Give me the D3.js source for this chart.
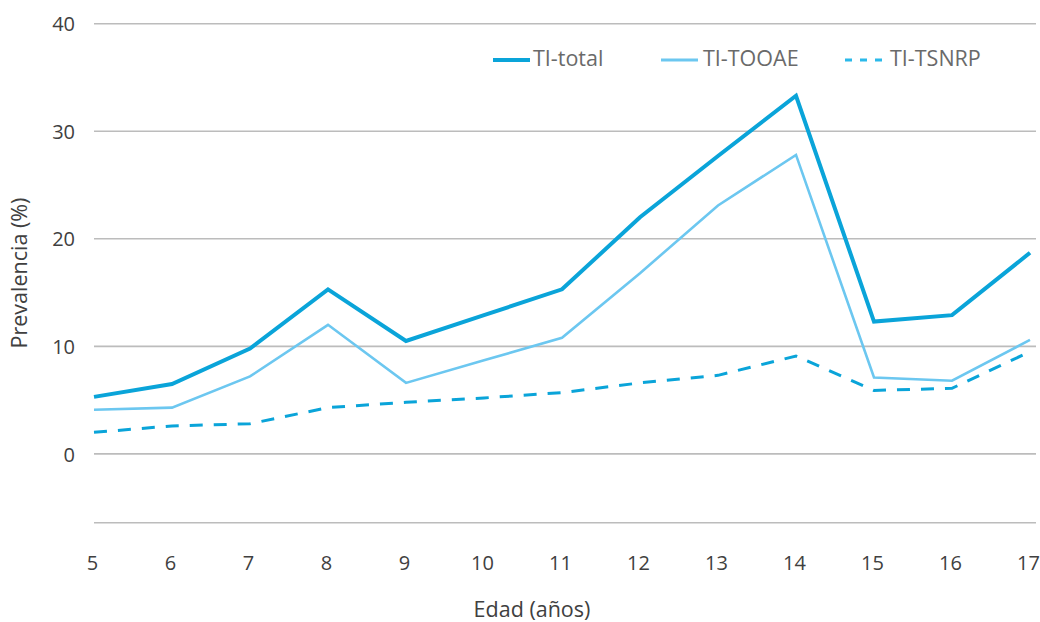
<!DOCTYPE html>
<html>
<head>
<meta charset="utf-8">
<script src="https://cdn.jsdelivr.net/npm/d3@7"></script>
<style>
    body { margin: 0; background: #fff; }
    text { font-family: "Open Sans", Lato, sans-serif; }
    .tick text { fill: #404040; font-size: 20px; }
    .legend text { fill: #6a6a6a; font-size: 21.5px; }
    .axisTitle { fill: #404040; font-size: 21.5px; }
</style>
</head>
<body>
<script>
(function () {

    //chart data
    var ages = [5, 6, 7, 8, 9, 10, 11, 12, 13, 14, 15, 16, 17];
    var tiTotal = [5.3, 6.5, 9.8, 15.3, 10.5, 12.9, 15.3, 22.0, 27.7, 33.3, 12.3, 12.9, 18.7];
    var tiTOOAE = [4.1, 4.3, 7.2, 12.0, 6.6, 8.7, 10.8, 16.8, 23.1, 27.8, 7.1, 6.8, 10.6];
    var tiTSNRP = [2.0, 2.6, 2.8, 4.3, 4.8, 5.2, 5.7, 6.6, 7.3, 9.1, 5.9, 6.1, 9.5];
    var yTicks = [0, 10, 20, 30, 40];
    var seriesNames = ["TI-total", "TI-TOOAE", "TI-TSNRP"];

    var width = 1040,
        height = 622;

    var svg = d3.select("body")
        .append("svg")
        .attr("width", width)
        .attr("height", height);

    //scales
    var x = d3.scalePoint()
        .domain(ages)
        .range([94, 1030]);

    var y = d3.scaleLinear()
        .domain([-6.4, 40])
        .range([522.7, 23.7]);

    //horizontal grid lines
    var grid = svg.append("g").attr("class", "grid");
    grid.selectAll("line")
        .data(yTicks.concat([y.domain()[0]]))
        .enter()
        .append("line")
        .attr("x1", 94)
        .attr("x2", 1036)
        .attr("y1", function (d) { return y(d); })
        .attr("y2", function (d) { return y(d); })
        .attr("stroke", "#bcbcbc")
        .attr("stroke-width", 1.6);

    //y axis labels
    var yAxis = d3.axisLeft(y)
        .tickValues(yTicks)
        .tickSize(0)
        .tickPadding(19);
    svg.append("g")
        .attr("transform", "translate(94,0)")
        .call(yAxis)
        .call(function (g) { g.select(".domain").remove(); })
        .selectAll("text")
        .attr("dy", "0.36em");

    //x axis labels
    var xAxis = d3.axisBottom(x)
        .tickSize(0)
        .tickPadding(0);
    svg.append("g")
        .attr("transform", "translate(-2,556)")
        .call(xAxis)
        .call(function (g) { g.select(".domain").remove(); })
        .selectAll("text")
        .attr("dy", "0.71em");

    //axis titles
    svg.append("text")
        .attr("class", "axisTitle")
        .attr("x", 532)
        .attr("y", 617)
        .attr("text-anchor", "middle")
        .text("Edad (años)");

    svg.append("text")
        .attr("class", "axisTitle")
        .attr("transform", "translate(27,273) rotate(-90)")
        .attr("text-anchor", "middle")
        .text("Prevalencia (%)");

    //lines
    var series = [
        { name: seriesNames[0], values: tiTotal, color: "#0aa4d9", width: 4, dash: null },
        { name: seriesNames[1], values: tiTOOAE, color: "#6cc7f0", width: 2.6, dash: null },
        { name: seriesNames[2], values: tiTSNRP, color: "#0aa4d9", width: 3, dash: "13,11" }
    ];

    var line = d3.line()
        .x(function (d, i) { return x(ages[i]); })
        .y(function (d) { return y(d); });

    svg.selectAll(".series")
        .data(series.slice().reverse())
        .enter()
        .append("path")
        .attr("class", "series")
        .attr("d", function (d) { return line(d.values); })
        .attr("fill", "none")
        .attr("stroke", function (d) { return d.color; })
        .attr("stroke-width", function (d) { return d.width; })
        .attr("stroke-dasharray", function (d) { return d.dash; })
        .attr("stroke-linejoin", "miter");

    //legend
    var legendX = [493, 661, 845];
    var legend = svg.append("g").attr("class", "legend");
    var items = legend.selectAll("g")
        .data(series)
        .enter()
        .append("g")
        .attr("transform", function (d, i) { return "translate(" + legendX[i] + ",60)"; });

    items.append("line")
        .attr("x1", 0)
        .attr("x2", 37)
        .attr("stroke", function (d, i) { return i === 2 ? "#2bb9ea" : d.color; })
        .attr("stroke-width", function (d, i) { return i === 0 ? 4 : 3; })
        .attr("stroke-dasharray", function (d, i) { return i === 2 ? "7,8" : null; });

    items.append("text")
        .attr("x", function (d, i) { return i === 2 ? 45 : (i === 1 ? 42 : 40); })
        .attr("y", 0)
        .attr("dy", "0.3em")
        .text(function (d) { return d.name; });

})();
</script>
</body>
</html>
